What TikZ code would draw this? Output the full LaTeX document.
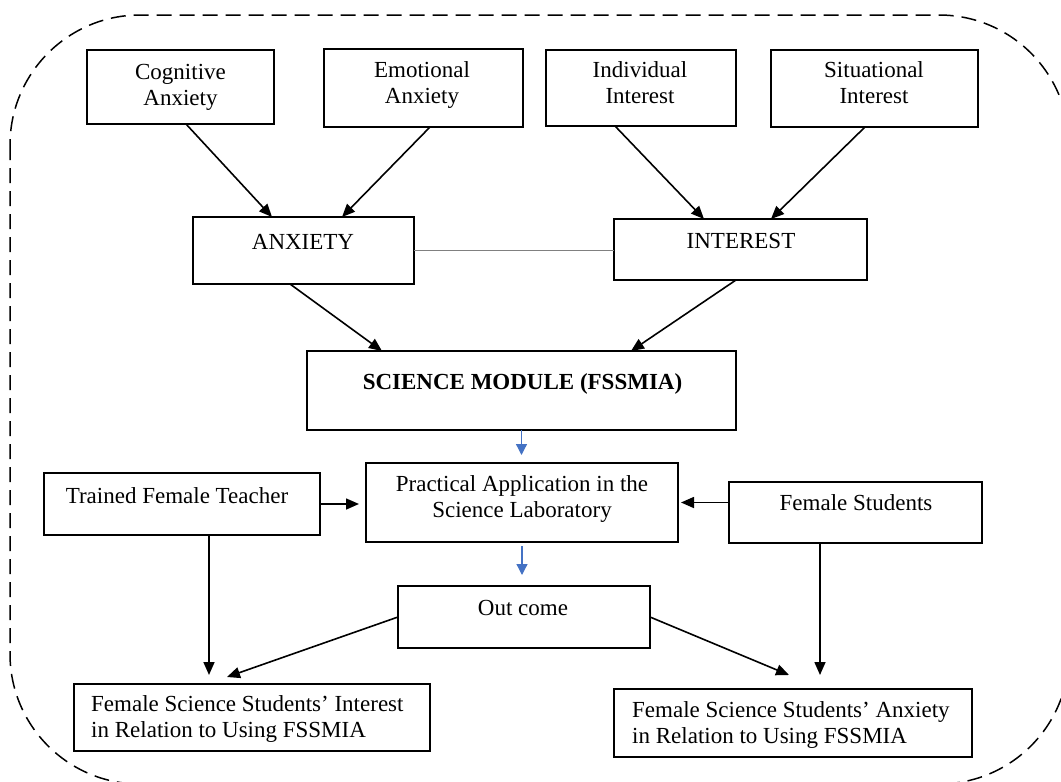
\documentclass[tikz,border=0pt]{standalone}
\usepackage{fontspec}
\setmainfont{Liberation Serif}
\usetikzlibrary{arrows.meta,calc}
\definecolor{linkblue}{RGB}{68,114,196}
\definecolor{linkgray}{RGB}{128,128,128}
\begin{document}
\begin{tikzpicture}[x=1pt,y=-1pt,
  box/.style={draw, line width=1.6pt, anchor=north west, inner sep=0pt, outer sep=0pt},
  lbl/.style={anchor=base, inner sep=0pt, align=center, font=\fontsize{23}{25.5}\selectfont},
  lbll/.style={lbl, anchor=base west, align=left},
  arr/.style={-{Triangle[length=13pt,width=11pt]}, line width=1.6pt},
  barr/.style={-{Triangle[length=11pt,width=11pt]}, draw=linkblue, fill=linkblue, line width=1.3pt},
  tie/.style={draw=linkgray, line width=1.3pt}]
\useasboundingbox (0,0) rectangle (1061,782);

% dashed frame around the whole model
\draw[line width=1.5pt, dash pattern=on 15pt off 8pt, rounded corners=130pt]
  (10,15) rectangle (1069,784);

% boxes
\node[box, minimum width=187pt, minimum height=74pt] (cog)  at (87,50)  {};
\node[box, minimum width=199pt, minimum height=78pt] (emo)  at (324,49) {};
\node[box, minimum width=190pt, minimum height=76pt] (ind)  at (546,50) {};
\node[box, minimum width=207pt, minimum height=77pt] (sit)  at (771,50) {};
\node[box, minimum width=221pt, minimum height=67pt] (anx)  at (193,217) {};
\node[box, minimum width=253pt, minimum height=61pt] (int)  at (614,219) {};
\node[box, minimum width=429pt, minimum height=79pt] (sci)  at (307,351) {};
\node[box, minimum width=312pt, minimum height=79pt] (prac) at (366,463) {};
\node[box, minimum width=276pt, minimum height=62pt] (tft)  at (44,473)  {};
\node[box, minimum width=253pt, minimum height=61pt] (fs)   at (729,482) {};
\node[box, minimum width=252pt, minimum height=62pt] (out)  at (398,586) {};
\node[box, minimum width=356pt, minimum height=67pt] (fssi) at (74,684)  {};
\node[box, minimum width=358pt, minimum height=68pt] (fssa) at (614,689) {};

% texts
\node[lbl] (cogT)  at (180.5,105) {Cognitive\\Anxiety};
\node[lbl] (emoT)  at (422,103)   {Emotional\\Anxiety};
\node[lbl] (indT)  at (640,103)   {Individual\\Interest};
\node[lbl] (sitT)  at (874,103)   {Situational\\Interest};
\node[lbl] (anxT)  at (303,249)   {ANXIETY};
\node[lbl] (intT)  at (741,248)   {INTEREST};
\node[lbl, font=\fontsize{23}{25.5}\selectfont\bfseries] (sciT) at (522.5,389) {SCIENCE MODULE (FSSMIA)};
\node[lbl] (pracT) at (522,517)   {Practical Application in the\\Science Laboratory};
\node[lbl] (tftT)  at (177,503)   {Trained Female Teacher};
\node[lbl] (fsT)   at (856,510)   {Female Students};
\node[lbl] (outT)  at (523,615)   {Out come};
\node[lbll] (fssiT) at (91,737)   {Female Science Students’ Interest\\in Relation to Using FSSMIA};
\node[lbll] (fssaT) at (632,743)  {Female Science Students’ Anxiety\\in Relation to Using FSSMIA};

% top level into ANXIETY / INTEREST
\draw[arr] ($(cog.south)+(5.5,0)$) -- ($(anx.north west)+(79,0)$);
\draw[arr] ($(emo.south)+(6.5,0)$) -- ($(anx.north west)+(149,0)$);
\draw[arr] ($(ind.south)+(-26,0)$) -- ($(int.north west)+(90,0)$);
\draw[arr] ($(sit.south)+(-9.5,0)$) -- ($(int.north west)+(157,0)$);
\draw[tie] (anx.east) -- (anx.east -| int.west);

% into the module
\draw[arr] ($(anx.south west)+(97,0)$) -- ($(sci.north west)+(75,0)$);
\draw[arr] ($(int.south west)+(122,0)$) -- ($(sci.north west)+(324,0)$);

% module flow
\draw[barr, shorten >=8pt] (sci.south) -- (sci.south |- prac.north);
\draw[barr, shorten <=4pt, shorten >=11pt] (prac.south) -- (prac.south |- out.north);

% side inputs
\draw[arr, shorten >=7pt] (tft.east) -- (tft.east -| prac.west);
\draw[arr, shorten >=3pt] (fs.west |- prac.east) -- (prac.east);

% down to the outcomes
\coordinate (tftd) at ($(tft.south)+(27,0)$);
\draw[arr, shorten >=9pt] (tftd) -- (tftd |- fssi.north);
\coordinate (fsd) at ($(fs.south)+(-35.5,0)$);
\draw[arr, shorten >=14pt] (fsd) -- (fsd |- fssa.north);
\draw[arr] (out.west) -- ($(fssi.north west)+(153,-7)$);
\draw[arr] (out.east) -- ($(fssa.north west)+(175,-14)$);
\end{tikzpicture}
\end{document}
